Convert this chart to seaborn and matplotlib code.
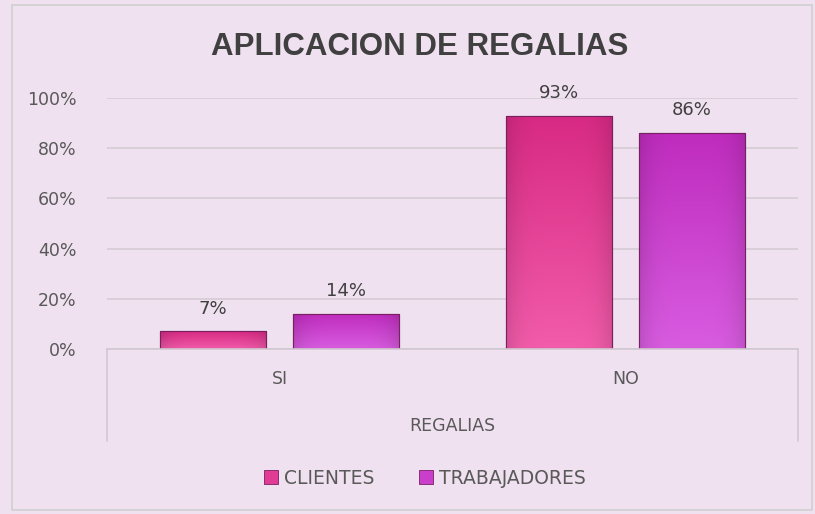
import numpy as np
import pandas as pd
import matplotlib
matplotlib.use("Agg")
import matplotlib.pyplot as plt
import seaborn as sns
from matplotlib.patches import Rectangle
from matplotlib.colors import to_rgb

categories = ["SI", "NO"]
series = ["CLIENTES", "TRABAJADORES"]
clientes = [0.07, 0.93]
trabajadores = [0.14, 0.86]
yticks = [0, 0.2, 0.4, 0.6, 0.8, 1.0]
ytick_labels = ["0%", "20%", "40%", "60%", "80%", "100%"]

df = pd.DataFrame({
    "cat": categories * 2,
    "serie": [series[0]] * 2 + [series[1]] * 2,
    "val": clientes + trabajadores,
})

bg = "#F0E1F0"
col_top = {"CLIENTES": "#D82A84", "TRABAJADORES": "#BF2CBE"}
col_bot = {"CLIENTES": "#F25CAA", "TRABAJADORES": "#D85CE0"}
palette = {"CLIENTES": "#E23B95", "TRABAJADORES": "#C93FCC"}

sns.set_theme(style="white")
plt.rcParams['font.family'] = ['DejaVu Sans']

fig = plt.figure(figsize=(8.15, 5.14), dpi=100, facecolor=bg)
ax = fig.add_axes([107/815, 1-349/514, (798-107)/815, (349-98)/514])
ax.set_facecolor(bg)

sns.barplot(data=df, x="cat", y="val", hue="serie", order=categories,
            hue_order=series, palette=palette, width=0.77, gap=0.2,
            edgecolor="#6a1f55", linewidth=0.8, ax=ax, legend=False)

# gradient fill on bars
for cont, s in zip(ax.containers, series):
    for p in cont.patches:
        x0, y0 = p.get_x(), p.get_y()
        w, h = p.get_width(), p.get_height()
        t = np.array(to_rgb(col_top[s])); b = np.array(to_rgb(col_bot[s]))
        n = 64
        v = np.linspace(0, 1, n)[:, None, None]
        img = b * (1 - v) + t * v  # row 0 bottom
        hx = np.linspace(-1, 1, n)[None, :, None]
        shade = 1 - 0.12 * hx ** 4
        img = np.clip(img * shade, 0, 1)
        im = ax.imshow(img, extent=[x0, x0 + w, y0, y0 + h], origin="lower",
                       aspect="auto", zorder=p.get_zorder() + 0.1,
                       interpolation="bilinear")
        im.set_clip_path(p)
        ax.add_patch(Rectangle((x0, y0), w, h, fill=False,
                               edgecolor="#7a2060", linewidth=0.8,
                               zorder=p.get_zorder() + 0.2))
    labels = [f"{v*100:.0f}%" for v in cont.datavalues]
    ax.bar_label(cont, labels=labels, padding=10, fontsize=13, color="#404040")

ax.set_xlim(-0.5, 1.5)
ax.set_ylim(0, 1.0)
ax.set_yticks(yticks)
ax.set_yticklabels(ytick_labels)
ax.yaxis.grid(True, color="#D5CCD5", linewidth=1.2)
ax.set_axisbelow(True)
for sp in ["top", "right", "left"]:
    ax.spines[sp].set_visible(False)
ax.spines["bottom"].set_color("#D0C8D0")
ax.spines["bottom"].set_linewidth(1.2)
ax.tick_params(axis="both", length=0, labelsize=12.5, labelcolor="#595959")
ax.tick_params(axis="y", pad=22)
ax.tick_params(axis="x", pad=15)
ax.set_ylabel("")
ax.set_xlabel("REGALIAS", fontsize=12.5, color="#595959", labelpad=21)

# category box lines
for xa in [0, 1]:
    ax.plot([xa, xa], [0, -0.365], transform=ax.transAxes, color="#D0C8D0",
            lw=1.2, clip_on=False)

fig.text(420/815, 1-47/514, "APLICACION DE REGALIAS", fontsize=22.5,
         fontweight="bold", color="#404040", family="Liberation Sans",
         ha="center", va="center")

handles = [Rectangle((0, 0), 1, 1, facecolor=palette[s], edgecolor="#7a2060", lw=0.6)
           for s in series]
fig.legend(handles, series, loc="center", bbox_to_anchor=(425/815, 1-478/514),
           ncol=2, frameon=False, fontsize=13.5, labelcolor="#595959",
           handlelength=0.75, handleheight=0.75, handletextpad=0.3,
           columnspacing=2.4)

fig.add_artist(Rectangle((12/815, 4/514), 800/815, 505/514, transform=fig.transFigure,
                         fill=False, edgecolor="#D0D0D0", lw=1.2))

fig.savefig("out.png", dpi=100, facecolor=bg)
